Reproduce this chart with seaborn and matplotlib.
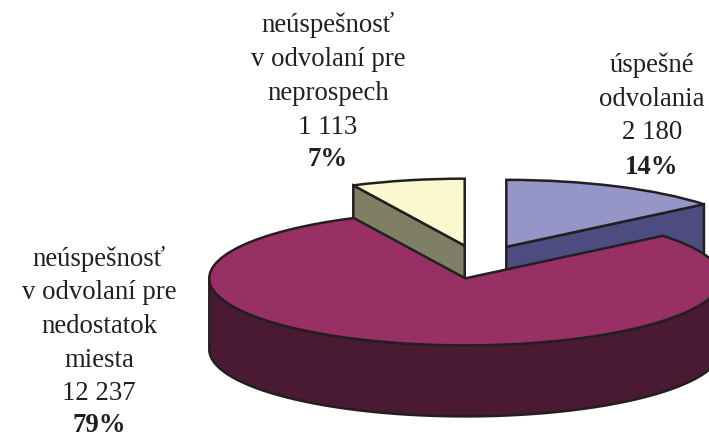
import numpy as np
import matplotlib
matplotlib.use("Agg")
import matplotlib.pyplot as plt
from matplotlib.patches import Polygon
import seaborn as sns

names = ["úspešné\nodvolania\n2 180", "neúspešnosť\nv odvolaní pre\nnedostatok\nmiesta\n12 237", "neúspešnosť\nv odvolaní pre\nneprospech\n1 113"]
values = [2180, 12237, 1113]
percents = ["14%", "79%", "7%"]
top_colors = ["#9595c8", "#993065", "#fbf9cf"]
side_colors = ["#4c4c80", "#4a1a32", "#7f7f65"]
ink = "#231f20"

sns.set_theme(style="white")
plt.rcParams["font.family"] = ["Liberation Serif", "DejaVu Serif"]

depth = 1.06
lw = 1.8

fig = plt.figure(figsize=(7.09, 4.37), dpi=100)
ax = fig.add_axes([0, 0, 1, 1])
wedges, _ = ax.pie(values, colors=sns.color_palette(top_colors), startangle=90, counterclock=False,
                   explode=[0.25, 0.25, 0.25], wedgeprops={"edgecolor": ink, "linewidth": lw, "joinstyle": "miter"})
ax.set_aspect("auto")
ax.set_xlim(-479 / 256, 230 / 256)
ax.set_ylim(-175 / 67, 262 / 67)
ax.axis("off")


def rim(w, t):
    return w.center[0] + w.r * np.cos(np.radians(t)), w.center[1] + w.r * np.sin(np.radians(t))


def side(pts, color, z):
    ax.add_patch(Polygon(pts, closed=True, facecolor=color, edgecolor=ink, linewidth=lw, zorder=z))


# cut faces of the two small slices, then the outer wall of the big one
for w, t, color, z in [(wedges[0], wedges[0].theta1, side_colors[0], 1),
                       (wedges[2], wedges[2].theta2, side_colors[2], 1)]:
    x, y = rim(w, t)
    cx, cy = w.center
    side([(cx, cy), (x, y), (x, y - depth), (cx, cy - depth)], color, z)

big = wedges[1]
tt = np.linspace(-180, 0, 200)
xs, ys = rim(big, tt)
side(np.r_[np.c_[xs, ys], np.c_[xs, ys - depth][::-1]], side_colors[1], 3)

wedges[0].set_zorder(2)
wedges[2].set_zorder(2)
big.set_zorder(4)

label_spots = [(652, 99, 168), (99, 326, 425), (328, 76, 160)]
for name, pct, (px, py, pb) in zip(names, percents, label_spots):
    ax.text(px / 709, 1 - py / 437, name, transform=ax.transAxes, ha="center", va="center",
            fontsize=19.3, color=ink, linespacing=1.46)
    ax.text(px / 709, 1 - pb / 437, pct, transform=ax.transAxes, ha="center", va="center",
            fontsize=19.3, color=ink, fontweight="bold")

fig.savefig("out.png", dpi=100)
